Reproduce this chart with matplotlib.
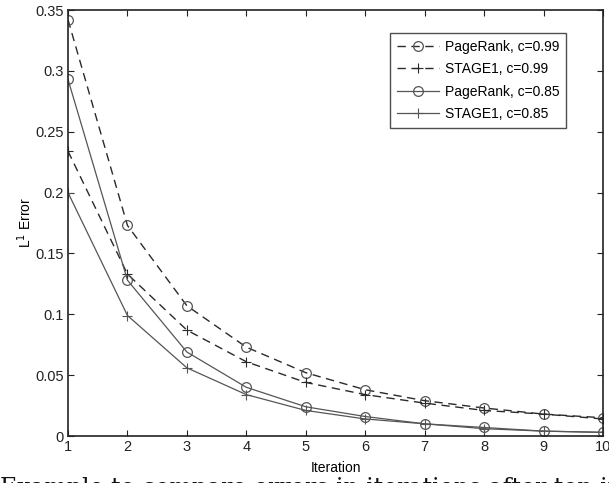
import matplotlib
matplotlib.use("Agg")
import matplotlib.pyplot as plt

iterations = [1, 2, 3, 4, 5, 6, 7, 8, 9, 10]
pagerank_099 = [0.342, 0.173, 0.107, 0.073, 0.052, 0.038, 0.029, 0.023, 0.018, 0.015]
stage1_099 = [0.234, 0.133, 0.087, 0.061, 0.044, 0.034, 0.027, 0.021, 0.018, 0.014]
pagerank_085 = [0.293, 0.128, 0.069, 0.040, 0.024, 0.016, 0.010, 0.007, 0.004, 0.003]
stage1_085 = [0.200, 0.099, 0.056, 0.034, 0.021, 0.014, 0.010, 0.006, 0.004, 0.003]

plt.rcParams['font.family'] = ['Liberation Sans', 'DejaVu Sans']

fig = plt.figure(figsize=(6.09, 4.83), dpi=100)
ax = fig.add_axes([68 / 609, 47 / 483, 535 / 609, 426 / 483])

dark = '#2a2a2a'
grey = '#555555'
ax.plot(iterations, pagerank_099, linestyle=(0, (6, 4)), color=dark, lw=1.0,
        marker='o', mfc='none', mec=grey, ms=7, mew=0.9, label='PageRank, c=0.99')
ax.plot(iterations, stage1_099, linestyle=(0, (6, 4)), color=dark, lw=1.0,
        marker='+', mec=dark, ms=7, mew=0.8, label='STAGE1, c=0.99')
ax.plot(iterations, pagerank_085, linestyle='-', color=grey, lw=0.9,
        marker='o', mfc='none', mec=grey, ms=7, mew=0.9, label='PageRank, c=0.85')
ax.plot(iterations, stage1_085, linestyle='-', color=grey, lw=0.9,
        marker='+', mec=grey, ms=7, mew=0.8, label='STAGE1, c=0.85')

ax.set_xlim(1, 10)
ax.set_ylim(0, 0.35)
ax.set_xticks(iterations)
ax.set_yticks([0, 0.05, 0.1, 0.15, 0.2, 0.25, 0.3, 0.35])
ax.set_yticklabels(['0', '0.05', '0.1', '0.15', '0.2', '0.25', '0.3', '0.35'])
ax.tick_params(direction='in', top=True, right=True, length=4, width=0.8,
               labelsize=10.5, colors='#222222', pad=3)
for s in ax.spines.values():
    s.set_linewidth(1.2)
    s.set_color('#222222')

ax.set_xlabel('Iteration', fontsize=10, labelpad=5)
ax.set_ylabel('L$^1$ Error', fontsize=10, labelpad=1)

leg = ax.legend(loc='upper right', bbox_to_anchor=(0.931, 0.946), borderaxespad=0,
                fontsize=10, frameon=True, fancybox=False, edgecolor='#222222',
                handlelength=3.0, borderpad=0.5, labelspacing=0.6,
                handletextpad=0.4)
leg.get_frame().set_linewidth(1.0)

# clipped caption line from the page below the figure
fig.text(0.0, -0.036, 'Example to compare errors in iterations after ten iterations (',
         fontsize=17, family='DejaVu Serif', ha='left', va='bottom', color='#111111')

fig.savefig('out.png', dpi=100)
